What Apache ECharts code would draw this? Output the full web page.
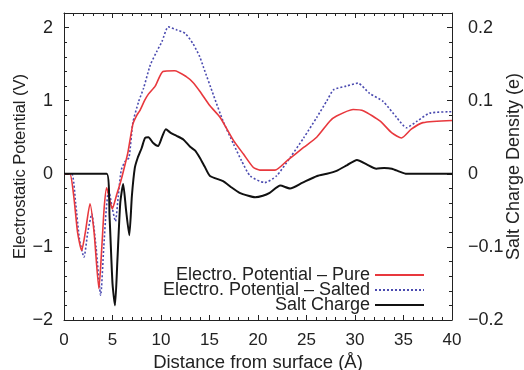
<!DOCTYPE html>
<html>
<head>
<meta charset="utf-8">
<script src="https://cdn.jsdelivr.net/npm/echarts@6/dist/echarts.min.js"></script>
<style>
  html, body { margin: 0; padding: 0; background: #fff; }
  #chart { width: 524px; height: 370px; }
</style>
</head>
<body>
<div id="chart"></div>
<script>
// distance (Å), potential (V)
var purePotential = [
  [0, 0], [0.6, 0], [1.0, -0.3], [1.4, -0.8], [1.82, -1.05], [2.2, -0.8], [2.68, -0.41],
  [3.1, -0.8], [3.6, -1.57], [3.9, -1.0], [4.15, -0.45], [4.4, -0.19], [4.7, -0.35],
  [4.98, -0.48], [5.4, -0.3], [5.9, -0.08], [6.3, 0.13], [6.6, 0.3], [7.1, 0.68],
  [7.5, 0.8], [7.8, 0.86], [8.3, 1.0], [8.7, 1.09], [9.4, 1.2], [10.2, 1.4], [11.4, 1.41],
  [12.6, 1.33], [13.3, 1.25], [14, 1.13], [15.05, 0.93], [16.1, 0.77], [17.5, 0.45],
  [18.5, 0.27], [19.5, 0.09], [20.2, 0.05], [21.75, 0.05], [23, 0.18], [24.7, 0.36],
  [26.05, 0.5], [27.4, 0.72], [28.1, 0.79], [29.8, 0.88], [30.9, 0.86], [32.6, 0.72],
  [33.8, 0.56], [34.8, 0.49], [35.8, 0.61], [37, 0.7], [40, 0.73]
];
var saltedPotential = [
  [0, 0], [0.8, 0], [1.2, -0.4], [1.6, -0.9], [2.06, -1.14], [2.45, -0.8], [2.86, -0.55],
  [3.3, -1.0], [3.78, -1.66], [4.1, -1.0], [4.35, -0.5], [4.6, -0.22], [4.95, -0.45],
  [5.3, -0.65], [5.6, -0.3], [5.9, 0.05], [6.3, 0.17], [6.7, 0.22], [7.1, 0.7], [7.7, 0.99],
  [8.2, 1.17], [8.9, 1.49], [9.55, 1.67], [10.1, 1.81], [10.75, 2.01], [11.6, 1.97],
  [12.5, 1.92], [13.3, 1.78], [14, 1.6], [14.4, 1.45], [15.4, 1.08], [16.4, 0.72],
  [17.5, 0.4], [18.3, 0.18], [19.2, -0.03], [20.7, -0.12], [21.9, -0.03], [23.3, 0.22],
  [24.7, 0.49], [26.05, 0.77], [27.1, 1.0], [27.8, 1.15], [29.1, 1.2], [30.3, 1.24],
  [31.5, 1.1], [32.9, 0.99], [34.3, 0.77], [35.3, 0.63], [36.4, 0.72], [37.7, 0.83], [40, 0.85]
];
// distance (Å), charge density (e)
var saltCharge = [
  [0, 0], [4.4, 0], [4.7, -0.06], [5.0, -0.15], [5.26, -0.18], [5.5, -0.12], [5.8, -0.04],
  [6.1, -0.014], [6.4, -0.05], [6.73, -0.084], [7.0, -0.03], [7.3, 0.008], [7.6, 0.022],
  [8.0, 0.035], [8.35, 0.049], [8.7, 0.05], [9.2, 0.042], [9.7, 0.038], [10.1, 0.05],
  [10.5, 0.061], [11.0, 0.056], [11.6, 0.052], [12.3, 0.047], [13, 0.037], [13.5, 0.032],
  [14, 0.022], [14.5, 0.01], [15.05, -0.003], [16.4, -0.01], [17.2, -0.018], [18.1, -0.026],
  [19, -0.03], [19.7, -0.032], [20.5, -0.03], [21.2, -0.026], [22.3, -0.016], [23.3, -0.02],
  [24.6, -0.012], [26.1, -0.003], [27.1, 0], [28.1, 0.004], [29.2, 0.012], [30.2, 0.019],
  [31.2, 0.013], [32.2, 0.007], [33, 0.008], [33.8, 0.007], [34.6, 0.003], [35.3, 0], [40, 0]
];
var seriesNames = ['Electro. Potential – Pure', 'Electro. Potential – Salted', 'Salt Charge'];

var font = 'Liberation Sans';
var ink = '#222';

function minus (v) {
  return String(v).replace('-', '\u2212');
}

var chart = echarts.init(document.getElementById('chart'));
chart.setOption({
  animation: false,
  textStyle: { fontFamily: font },
  grid: { left: 64, right: 72, top: 13, bottom: 50, outerBoundsMode: 'none', containLabel: false },
  legend: {
    orient: 'vertical',
    right: 94,
    top: 261,
    align: 'right',
    itemWidth: 49,
    itemHeight: 14,
    itemGap: -3,
    itemStyle: { color: 'rgba(0,0,0,0)', borderColor: 'rgba(0,0,0,0)', borderWidth: 0 },
    textStyle: { fontFamily: font, fontSize: 18, color: ink },
    data: seriesNames
  },
  xAxis: [
    {
      type: 'value',
      min: 0,
      max: 40,
      interval: 5,
      name: 'Distance from surface (Å)',
      nameLocation: 'middle',
      nameGap: 33,
      nameMoveOverlap: false,
      nameTextStyle: { fontFamily: font, fontSize: 18.5, color: ink },
      axisLine: { onZero: false, lineStyle: { color: ink } },
      axisTick: { inside: true, length: 5, lineStyle: { color: ink } },
      minorTick: { show: true, splitNumber: 5, length: 3, lineStyle: { color: ink } },
      axisLabel: { fontFamily: font, fontSize: 17, color: ink, margin: 12 },
      splitLine: { show: false }
    },
    {
      type: 'value',
      position: 'top',
      min: 0,
      max: 40,
      interval: 5,
      axisLine: { onZero: false, lineStyle: { color: ink } },
      axisTick: { inside: true, length: 5, lineStyle: { color: ink } },
      minorTick: { show: true, splitNumber: 5, length: 3, lineStyle: { color: ink } },
      axisLabel: { show: false },
      splitLine: { show: false }
    }
  ],
  yAxis: [
    {
      type: 'value',
      min: -2,
      max: 2.2,
      interval: 1,
      name: 'Electrostatic Potential (V)',
      nameLocation: 'middle',
      nameGap: 35,
      nameMoveOverlap: false,
      nameTextStyle: { fontFamily: font, fontSize: 16.5, color: ink },
      axisLine: { show: true, onZero: false, lineStyle: { color: ink } },
      axisTick: { inside: true, length: 5, lineStyle: { color: ink } },
      minorTick: { show: true, splitNumber: 5, length: 3, lineStyle: { color: ink } },
      axisLabel: {
        fontFamily: font, fontSize: 18, color: ink, margin: 11,
        formatter: function (v) { return Number.isInteger(v) ? minus(v) : ''; }
      },
      splitLine: { show: false }
    },
    {
      type: 'value',
      position: 'right',
      min: -0.2,
      max: 0.22,
      interval: 0.1,
      name: 'Salt Charge Density (e)',
      nameLocation: 'middle',
      nameGap: 53,
      nameMoveOverlap: false,
      nameRotate: 90,
      nameTextStyle: { fontFamily: font, fontSize: 18, color: ink },
      axisLine: { show: true, onZero: false, lineStyle: { color: ink } },
      axisTick: { inside: true, length: 5, lineStyle: { color: ink } },
      minorTick: { show: true, splitNumber: 5, length: 3, lineStyle: { color: ink } },
      axisLabel: {
        fontFamily: font, fontSize: 18, color: ink, margin: 16,
        formatter: function (v) {
          var r = Math.round(v * 10) / 10;
          return Math.abs(v - r) < 1e-9 ? minus(r) : '';
        }
      },
      splitLine: { show: false }
    }
  ],
  series: [
    {
      name: seriesNames[0],
      type: 'line',
      symbol: 'none',
      smooth: 0.2,
      yAxisIndex: 0,
      z: 3,
      lineStyle: { color: '#e8383d', width: 1.6 },
      itemStyle: { color: '#e8383d' },
      data: purePotential
    },
    {
      name: seriesNames[1],
      type: 'line',
      symbol: 'none',
      smooth: 0.2,
      yAxisIndex: 0,
      z: 2,
      lineStyle: { color: '#4b4bb0', width: 1.6, type: [2, 2] },
      itemStyle: { color: '#4b4bb0' },
      data: saltedPotential
    },
    {
      name: seriesNames[2],
      type: 'line',
      symbol: 'none',
      smooth: 0.2,
      yAxisIndex: 1,
      z: 4,
      lineStyle: { color: '#111', width: 2 },
      itemStyle: { color: '#111' },
      data: saltCharge
    }
  ]
});
</script>
</body>
</html>
